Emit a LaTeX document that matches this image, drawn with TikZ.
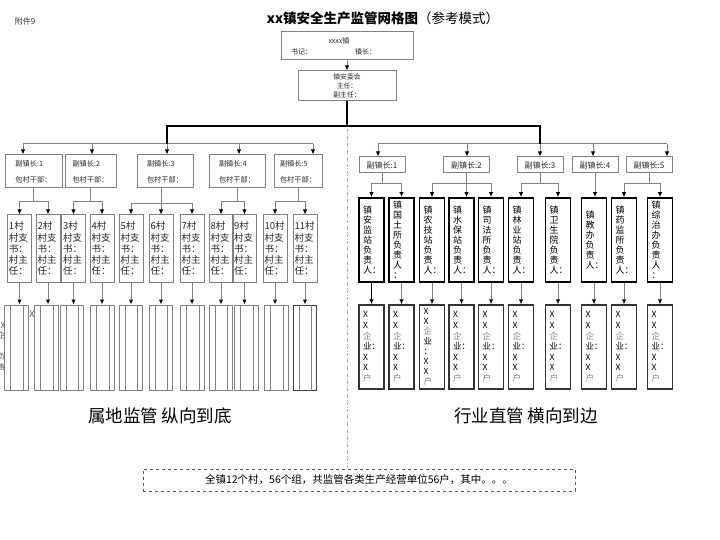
\documentclass[tikz,border=0pt]{standalone}
\usepackage{fontspec}
\setmainfont{Noto Sans CJK SC}
\usetikzlibrary{arrows.meta, calc, positioning}

\begin{document}
\begin{tikzpicture}[
    x=1pt, y=-1pt,
    link/.style={draw=gray, line width=1pt},
    flow/.style={link, -{Latex[length=5pt, width=4.5pt, color=black]}},
    main/.style={draw=black, line width=2.2pt},
    box/.style={draw=gray, line width=1pt, inner sep=0pt, text=black!85},
    sub/.style={box, align=left, minimum height=33pt,
                font=\fontsize{7.2}{16}\selectfont},
    rsub/.style={box, minimum width=46pt, minimum height=16pt,
                 font=\fontsize{8}{10}\selectfont},
    vil/.style={box, align=left, inner xsep=1.5pt, text width=21pt,
                minimum height=67pt, font=\fontsize{9.5}{11}\selectfont},
    cell/.style={box, minimum width=23.5pt, minimum height=85pt},
    celldark/.style={cell, draw=black!75},
    dept/.style={draw=black, line width=1.8pt, inner sep=0pt, inner xsep=4pt,
                 align=left, text width=17pt, minimum height=84pt,
                 font=\fontsize{9}{10}\selectfont},
    firm/.style={draw=black!80, line width=1.4pt, inner sep=0pt, inner xsep=4pt,
                 align=left, text width=17pt, minimum height=84pt,
                 font=\fontsize{8.5}{10.6}\selectfont},
    big/.style={font=\fontsize{17.5}{20}\selectfont},
    divider/.style={draw=gray!70, line width=0.8pt,
                    dash pattern=on 3pt off 1.5pt on 1pt off 1.5pt},
]
\useasboundingbox (0,0) rectangle (720,540);

% heading
\node[font=\fontsize{8}{10}\selectfont, text=black!80] (att) at (25,21) {附件9};
\node[font=\fontsize{13.5}{16}\selectfont] (title) at (383,18)
   {\textbf{xx镇安全生产监管网格图}（参考模式）};

% town and committee
\node[box, minimum width=132pt, minimum height=28pt, inner xsep=10pt,
      text width=112pt, align=left, font=\fontsize{7}{11}\selectfont] (town) at (347,46)
   {\hspace*{37.5pt}xxxx镇\\书记：\hspace{43pt}镇长：};
\node[box, minimum width=98pt, minimum height=30pt, align=center,
      font=\fontsize{6.8}{9}\selectfont] (com) at (347,86) {镇安委会\\主任：\\副主任：};
\draw[flow] (town) -- (com);

% deputies
\foreach \cx/\w [count=\i] in {33.5/57, 90.5/51, 165/56, 237/56, 298/48}
  \node[sub, minimum width=\w pt] (L\i) at (\cx,171.5) {副镇长:{\i}\\包村干部：};
\foreach \cx [count=\i] in {382, 466.5, 540, 595, 649}
  \node[rsub] (R\i) at (\cx,165) {副镇长:{\i}};

\foreach \x [count=\i] in {23, 92, 167, 239, 313} \coordinate (tl\i) at (\x,144);
\foreach \x [count=\i] in {378, 467, 540, 593, 667} \coordinate (tr\i) at (\x,144);
\coordinate (hub) at (347,126);
\draw[link] (tl1) -- (tl5);
\draw[link] (tr1) -- (tr5);
\foreach \i in {1,...,5} {
  \draw[flow] (tl\i) -- (L\i.north -| tl\i);
  \draw[flow] (tr\i) -- (R\i.north -| tr\i);
}
\draw[main] (com.south) -- (hub);
\draw[main] (tl3) -- (tl3 |- hub) -- (tr3 |- hub) -- (tr3);
\draw[divider] (hub) ++(0,3) -- (347,468);

% villages
\foreach \cx [count=\i] in {19.5, 48, 73.5, 102, 131, 161, 192, 221, 244.5, 275, 305}
  \node[vil] (V\i) at (\cx,248.5) {{\i}村\\[1.5pt]村支\\书：\\村主\\任：};
\foreach \l/\a/\b in {1/1/2, 2/3/4, 4/8/9, 5/10/11} {
  \draw[flow] (L\l.south) -- ++(0,13) -| (V\a.north);
  \draw[flow] (L\l.south) -- ++(0,13) -| (V\b.north);
}
\draw[flow] (L3.south -| V6.north) -- (V6.north);
\draw[flow] (L3.south -| V6.north) -- ++(0,15) -| (V5.north);
\draw[flow] (L3.south -| V6.north) -- ++(0,15) -| (V7.north);

% village cells
\foreach \cx/\s [count=\i] in {16.5/cell, 46.5/cell, 72/cell, 102.5/cell, 131/cell,
    161/cell, 192.5/cell, 221/cell, 246.5/cell, 276.5/cell, 305/celldark} {
  \node[\s] (B\i) at (\cx,347.5) {};
  \draw[gray] ([xshift=6pt]B\i.north west) -- ([xshift=6pt]B\i.south west);
  \draw[gray] ([xshift=-6pt]B\i.north east) -- ([xshift=-6pt]B\i.south east);
  \draw[flow] (V\i.south) -- (V\i.south |- B\i.north);
}
\node[font=\fontsize{9}{10}\selectfont, text=black!70] (bx) at (32,314) {X};
\node[anchor=east, inner sep=0pt, align=right, text=black!65,
      font=\fontsize{8}{10.5}\selectfont] (bcut) at (5.5,352) {X\\企\\业：\\负\\责\\人：};

% departments
\foreach \cx/\t [count=\i] in {
    371.5/{镇\\安\\监\\站\\负\\责\\人：}, 401.5/{镇\\国\\土\\所\\负\\责\\人\\：},
    432/{镇\\农\\技\\站\\负\\责\\人：}, 461.5/{镇\\水\\保\\站\\负\\责\\人：},
    491/{镇\\司\\法\\所\\负\\责\\人：}, 521/{镇\\林\\业\\站\\负\\责\\人：},
    558/{镇\\卫\\生\\院\\负\\责\\人：}, 594/{镇\\教\\办\\负\\责\\人：},
    624/{镇\\药\\监\\所\\负\\责\\人：}, 660/{镇\\综\\治\\办\\负\\责\\人\\：}}
  \node[dept] (D\i) at (\cx,240) {\t};

\foreach \r/\a/\b in {1/1/2, 2/3/5, 3/6/7, 5/9/10} {
  \draw[flow] (R\r.south) -- ++(0,10) -| (D\a.north);
  \draw[flow] (R\r.south) -- ++(0,10) -| (D\b.north);
}
\draw[flow] (R2.south) -- (R2.south |- D4.north);
\draw[flow] (R4.south) -- (R4.south |- D8.north);

% firms
\foreach \i/\cx in {1/371.5, 2/401.5, 4/461.5, 5/491, 6/521, 7/558, 8/594, 9/624, 10/660}
  \node[firm] (E\i) at (\cx,347)
     {X\\X\\\textcolor{gray}{企}\\业：\\X\\X\\\textcolor{gray}{户}};
\node[firm, font=\fontsize{8.5}{10}\selectfont] (E3) at (432,347)
     {X\\X\\\textcolor{gray}{企}\\业\\：\\X\\X\\\textcolor{gray}{户}};
\draw[flow, draw=black, line width=1.8pt] (D1.south) -- (E1.north);
\foreach \i in {2,...,10}
  \draw[flow] (D\i.south) -- (E\i.north);

% footer
\node[big] (ltag) at (160,416) {属地监管 纵向到底};
\node[big] (rtag) at (526,416) {行业直管 横向到边};
\node[draw=gray!70!black, dashed, minimum width=432pt, minimum height=22pt,
      font=\fontsize{10.5}{12}\selectfont] (sum) at (359,480)
   {全镇12个村，56个组，共监管各类生产经营单位56户，其中。。。};
\end{tikzpicture}
\end{document}
